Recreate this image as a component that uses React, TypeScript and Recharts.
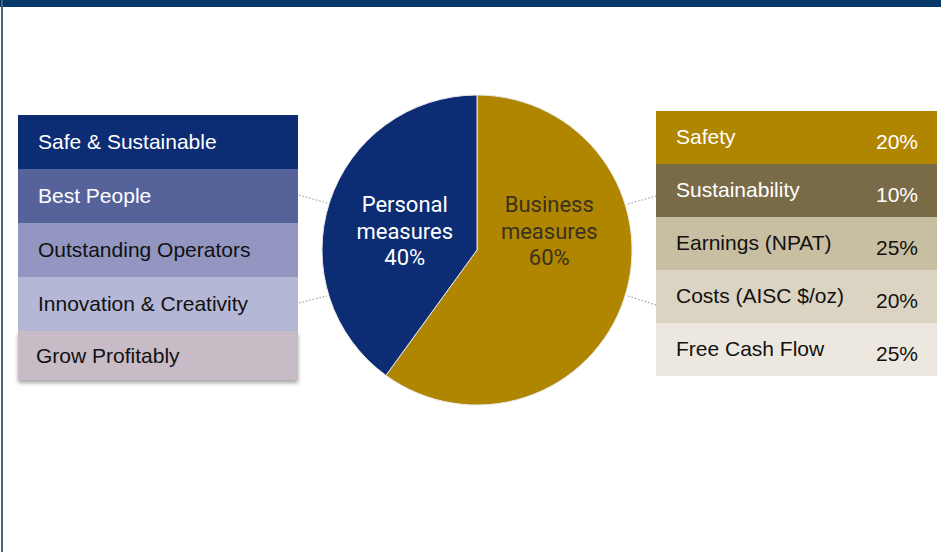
import React from 'react'
import { PieChart, Pie, Cell } from 'recharts'

const sliceNames = ['Business measures', 'Personal measures']
const sliceValues = [60, 40]
const sliceColors = ['#B08500', '#0C2C73']
const sliceTextColors = ['#3A321E', '#FFFFFF']

const personalMeasures = ['Safe & Sustainable', 'Best People', 'Outstanding Operators', 'Innovation & Creativity', 'Grow Profitably']
const personalColors = ['#0C2C73', '#56639A', '#9296C0', '#B4B7D6', '#C7BBC6']
const personalText = ['#fff', '#fff', '#111', '#111', '#111']

const businessMeasures = ['Safety', 'Sustainability', 'Earnings (NPAT)', 'Costs (AISC $/oz)', 'Free Cash Flow']
const businessWeights = [20, 10, 25, 20, 25]
const businessColors = ['#B08500', '#7A6B48', '#C8BEA2', '#DCD4C2', '#EDE8DF']
const businessText = ['#fff', '#fff', '#111', '#111', '#111']

const pieData = sliceNames.map((name, i) => ({ name, value: sliceValues[i] }))

const RAD = Math.PI / 180

const renderLabel = (props: any) => {
    const { cx, cy, midAngle, outerRadius, index, name, value } = props
    const x = cx + outerRadius * 0.49 * Math.cos(-midAngle * RAD)
    const words = name.split(' ')
    const lines = [words[0], words[1], `${value}%`]
    return (
        <g>
            {lines.map((t, k) => (
                <text
                    key={k}
                    x={x}
                    y={cy - 38 + k * 26.5}
                    textAnchor="middle"
                    fill={sliceTextColors[index]}
                    fontFamily="Roboto, sans-serif"
                    fontSize={22}
                >
                    {t}
                </text>
            ))}
        </g>
    )
}

const dotted = { stroke: '#8a8a8a', strokeWidth: 1, strokeDasharray: '1.5 2' }

export default function App() {
    return (
        <div style={{ position: 'absolute', left: 0, top: 0, width: 941, height: 552, background: '#fff', overflow: 'hidden' }}>
            <div style={{ position: 'absolute', left: 0, top: 0, width: 941, height: 7, background: '#053868' }} />
            <div style={{ position: 'absolute', left: 1, top: 0, width: 2, height: 552, background: '#48617F' }} />

            <div style={{ position: 'absolute', left: 0, top: 0 }}>
                <PieChart width={941} height={552} margin={{ top: 0, right: 0, bottom: 0, left: 0 }}>
                    <Pie
                        data={pieData}
                        dataKey="value"
                        nameKey="name"
                        cx={477}
                        cy={250}
                        outerRadius={155}
                        startAngle={90}
                        endAngle={-270}
                        stroke="#e8e8e8"
                        strokeWidth={1}
                        label={renderLabel}
                        labelLine={false}
                        isAnimationActive={false}
                    >
                        {pieData.map((d, i) => (
                            <Cell key={d.name} fill={sliceColors[i]} />
                        ))}
                    </Pie>
                </PieChart>
            </div>

            <svg width={941} height={552} style={{ position: 'absolute', left: 0, top: 0, pointerEvents: 'none' }}>
                <line x1={299} y1={195} x2={327} y2={203} {...dotted} />
                <line x1={299} y1={303} x2={327} y2={296} {...dotted} />
                <line x1={628} y1={204} x2={656} y2={196} {...dotted} />
                <line x1={628} y1={296} x2={656} y2={305} {...dotted} />
            </svg>

            <div style={{ position: 'absolute', left: 18, top: 115, width: 280, fontFamily: "'Liberation Sans', Arial, sans-serif", fontSize: 21 }}>
                {personalMeasures.map((m, i) => (
                    <div
                        key={m}
                        style={{
                            height: i === 4 ? 49 : 54,
                            background: personalColors[i],
                            color: personalText[i],
                            display: 'flex',
                            alignItems: 'center',
                            paddingLeft: i === 4 ? 18 : 20,
                            boxSizing: 'border-box',
                            boxShadow: i === 4 ? '0 3px 4px rgba(0,0,0,0.35)' : 'none',
                            paddingBottom: i === 4 ? 0 : 1,
                        }}
                    >
                        {m}
                    </div>
                ))}
            </div>

            <div style={{ position: 'absolute', left: 656, top: 111, width: 281, fontFamily: "'Liberation Sans', Arial, sans-serif", fontSize: 21 }}>
                {businessMeasures.map((m, i) => (
                    <div
                        key={m}
                        style={{
                            height: 53,
                            background: businessColors[i],
                            color: businessText[i],
                            display: 'flex',
                            alignItems: 'center',
                            justifyContent: 'space-between',
                            paddingLeft: 20,
                            paddingRight: 19,
                            boxSizing: 'border-box',
                        }}
                    >
                        <span style={{ marginTop: -1 }}>{m}</span>
                        <span style={{ marginTop: 8 }}>{businessWeights[i]}%</span>
                    </div>
                ))}
            </div>
        </div>
    )
}
